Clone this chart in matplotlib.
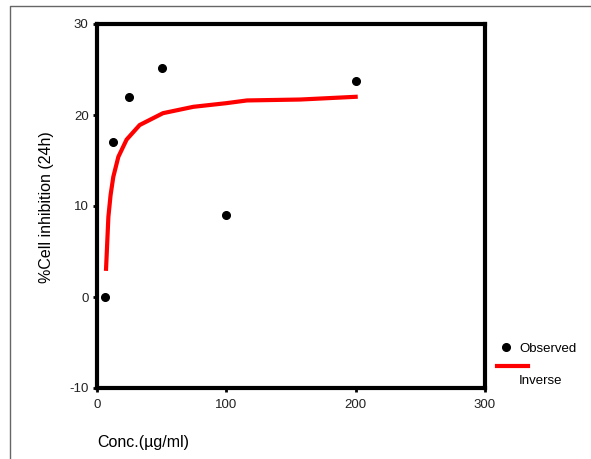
import matplotlib
matplotlib.use("Agg")
import matplotlib.pyplot as plt
from matplotlib.lines import Line2D

plt.rcParams['font.family'] = ['Liberation Sans', 'DejaVu Sans']
plt.rcParams['axes.unicode_minus'] = False

# observed data
conc = [6.25, 12.5, 25, 50, 100, 200]
inhibition = [0, 17, 22, 25.2, 9, 23.7]

# inverse model curve
fit_x = [7, 8.8, 10.5, 12.6, 16.5, 22.9, 33, 51, 74.5, 100, 116, 157, 200]
fit_y = [3.1, 8.8, 11.2, 13.2, 15.4, 17.3, 18.9, 20.2, 20.9, 21.3, 21.6, 21.7, 22.0]

x_ticks = [0, 100, 200, 300]
y_ticks = [-10, 0, 10, 20, 30]

W, H = 591, 459
fig = plt.figure(figsize=(W / 100, H / 100), dpi=100)
ax = fig.add_axes([97 / W, 1 - 388 / H, (485 - 97) / W, (388 - 24) / H])

ax.plot(fit_x, fit_y, color='red', lw=3, zorder=2)
ax.plot(conc, inhibition, 'o', color='black', ms=5.5, zorder=3, clip_on=False)

ax.set_xlim(0, 300)
ax.set_ylim(-10, 30)
ax.set_xticks(x_ticks)
ax.set_yticks(y_ticks)
for s in ax.spines.values():
    s.set_linewidth(3)
ax.tick_params(direction='out', length=3, width=2, labelsize=9.5,
               labelcolor='#222222', pad=3)
ax.tick_params(axis='x', pad=5)

# axis labels
fig.text(47 / W, 1 - 207 / H, '%Cell inhibition (24h)', rotation=90,
         ha='center', va='center', fontsize=11.5)
fig.text(97 / W, 1 - 443 / H, 'Conc.(µg/ml)', ha='left', va='center',
         fontsize=11.5)

# legend
fig.lines.append(Line2D([506 / W], [1 - 347 / H], marker='o', color='black',
                        ms=5.5, ls='none', transform=fig.transFigure))
fig.text(519 / W, 1 - 349 / H, 'Observed', ha='left', va='center', fontsize=9.5)
fig.lines.append(Line2D([497 / W, 528 / W], [1 - 366 / H, 1 - 366 / H],
                        color='red', lw=3, transform=fig.transFigure))
fig.text(519 / W, 1 - 381 / H, 'Inverse', ha='left', va='center', fontsize=9.5)

# outer frame
fig.lines.append(Line2D([10 / W, 10 / W, 1], [0, 1 - 6 / H, 1 - 6 / H],
                        color='#666666', lw=1, transform=fig.transFigure))

fig.savefig('out.png', dpi=100)
